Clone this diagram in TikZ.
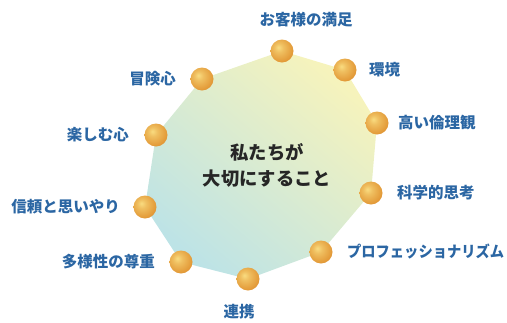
\documentclass[tikz,border=0pt]{standalone}
\usepackage{fontspec}
\usepackage{graphicx}
\newfontfamily\jp{Noto Sans CJK JP}
\definecolor{lbl}{HTML}{2B66A3}
\definecolor{polyY}{HTML}{F6F3BC}
\definecolor{polyC}{HTML}{BDE3E6}
\definecolor{orbhi}{HTML}{F9DC80}
\definecolor{orbmid}{HTML}{E39A38}
\definecolor{orblo}{HTML}{B5661A}
\pgfdeclareradialshading{orb}{\pgfpoint{-8bp}{8bp}}{color(0bp)=(orbhi); color(10bp)=(orbhi!55!orbmid); color(28bp)=(orbmid); color(50bp)=(orblo); color(70bp)=(orblo)}
\tikzset{
  orbnode/.style={circle, minimum size=23pt, inner sep=0pt, shading=orb},
  lab/.style={font=\jp\bfseries\fontsize{15.5pt}{18pt}\selectfont, text=lbl, inner sep=0pt},
  ctr/.style={font=\jp\bfseries\fontsize{18.3pt}{26pt}\selectfont, text=black!85, align=center, inner sep=0pt}
}
\begin{document}
\begin{tikzpicture}[x=1pt,y=-1pt]
\useasboundingbox (0,0) rectangle (507,322);
\coordinate (p1) at (282,51);
\coordinate (p2) at (345,70);
\coordinate (p3) at (377,123);
\coordinate (p4) at (371,193);
\coordinate (p5) at (321,252);
\coordinate (p6) at (248,279);
\coordinate (p7) at (181,262);
\coordinate (p8) at (145,207);
\coordinate (p9) at (156,135);
\coordinate (p10) at (202,79);
\shade[top color=polyY, bottom color=polyC, shading angle=-40] (p1)--(p2)--(p3)--(p4)--(p5)--(p6)--(p7)--(p8)--(p9)--(p10)--cycle;
\foreach \i in {1,...,10} {\node[orbnode] (b\i) at (p\i) {};}
\node[lab, anchor=south] (l1) at (306,27) {お客様の満足};
\node[lab, anchor=west] (l2) at (369,70) {環境};
\node[lab, anchor=west] (l3) at (398,123) {高い倫理観};
\node[lab, anchor=west] (l4) at (397,193) {科学的思考};
\node[lab, anchor=west] (l5) at (347,252) {\scalebox{0.92}[1]{プロフェッショナリズム}};
\node[lab, anchor=north] (l6) at (239,304) {連携};
\node[lab, anchor=east] (l7) at (155,262) {多様性の尊重};
\node[lab, anchor=east] (l8) at (120,207) {信頼と思いやり};
\node[lab, anchor=east] (l9) at (129,135) {楽しむ心};
\node[lab, anchor=east] (l10) at (176,79) {冒険心};
\node[ctr] (c) at (267,165) {私たちが\\大切にすること};
\end{tikzpicture}
\end{document}
